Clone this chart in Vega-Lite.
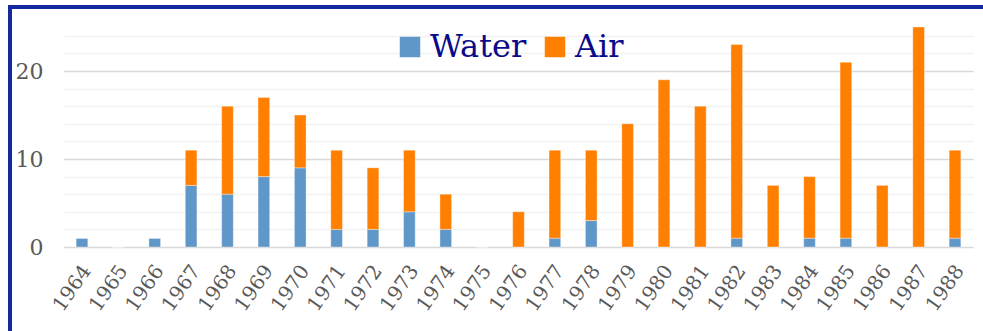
{
  "$schema": "https://vega.github.io/schema/vega-lite/v6.json",
  "autosize": {"type": "none"},
  "padding": {"left": 10, "top": 7, "right": -10, "bottom": -7},
  "width": 983,
  "height": 331,
  "background": "#ffffff",
  "view": {"stroke": "#1428a0", "strokeWidth": 4},
  "data": {"values": [
    {"year": "1964", "type": "Water", "value": 1}, {"year": "1964", "type": "Air", "value": 0},
    {"year": "1965", "type": "Water", "value": 0}, {"year": "1965", "type": "Air", "value": 0},
    {"year": "1966", "type": "Water", "value": 1}, {"year": "1966", "type": "Air", "value": 0},
    {"year": "1967", "type": "Water", "value": 7}, {"year": "1967", "type": "Air", "value": 4},
    {"year": "1968", "type": "Water", "value": 6}, {"year": "1968", "type": "Air", "value": 10},
    {"year": "1969", "type": "Water", "value": 8}, {"year": "1969", "type": "Air", "value": 9},
    {"year": "1970", "type": "Water", "value": 9}, {"year": "1970", "type": "Air", "value": 6},
    {"year": "1971", "type": "Water", "value": 2}, {"year": "1971", "type": "Air", "value": 9},
    {"year": "1972", "type": "Water", "value": 2}, {"year": "1972", "type": "Air", "value": 7},
    {"year": "1973", "type": "Water", "value": 4}, {"year": "1973", "type": "Air", "value": 7},
    {"year": "1974", "type": "Water", "value": 2}, {"year": "1974", "type": "Air", "value": 4},
    {"year": "1975", "type": "Water", "value": 0}, {"year": "1975", "type": "Air", "value": 0},
    {"year": "1976", "type": "Water", "value": 0}, {"year": "1976", "type": "Air", "value": 4},
    {"year": "1977", "type": "Water", "value": 1}, {"year": "1977", "type": "Air", "value": 10},
    {"year": "1978", "type": "Water", "value": 3}, {"year": "1978", "type": "Air", "value": 8},
    {"year": "1979", "type": "Water", "value": 0}, {"year": "1979", "type": "Air", "value": 14},
    {"year": "1980", "type": "Water", "value": 0}, {"year": "1980", "type": "Air", "value": 19},
    {"year": "1981", "type": "Water", "value": 0}, {"year": "1981", "type": "Air", "value": 16},
    {"year": "1982", "type": "Water", "value": 1}, {"year": "1982", "type": "Air", "value": 22},
    {"year": "1983", "type": "Water", "value": 0}, {"year": "1983", "type": "Air", "value": 7},
    {"year": "1984", "type": "Water", "value": 1}, {"year": "1984", "type": "Air", "value": 7},
    {"year": "1985", "type": "Water", "value": 1}, {"year": "1985", "type": "Air", "value": 20},
    {"year": "1986", "type": "Water", "value": 0}, {"year": "1986", "type": "Air", "value": 7},
    {"year": "1987", "type": "Water", "value": 0}, {"year": "1987", "type": "Air", "value": 25},
    {"year": "1988", "type": "Water", "value": 1}, {"year": "1988", "type": "Air", "value": 10}
  ]},
  "mark": {"type": "bar", "stroke": "#ffffff", "strokeOpacity": 0.35, "strokeWidth": 1},
  "encoding": {
    "x": {
      "field": "year", "type": "ordinal", "title": null,
      "scale": {"range": [53.8, 963.2], "paddingInner": 0.68, "paddingOuter": 0.34},
      "axis": {
        "offset": -91, "domain": false, "ticks": false, "grid": false,
        "labelAngle": -55, "labelAlign": "right", "labelBaseline": "middle",
        "labelPadding": 20, "labelOffset": 5, "labelOverlap": false, "labelBound": false,
        "labelFont": "DejaVu Serif", "labelFontSize": 20, "labelColor": "#595959"
      }
    },
    "y": {
      "field": "value", "type": "quantitative", "title": null, "stack": "zero",
      "scale": {"domain": [0, 24], "range": [240, 28.8], "nice": false, "zero": true},
      "axis": {
        "offset": -33, "domain": false, "ticks": false, "grid": true,
        "values": [0, 2, 4, 6, 8, 10, 12, 14, 16, 18, 20, 22, 24],
        "labelExpr": "datum.value % 10 === 0 ? datum.label : ''",
        "labelPadding": 0, "labelFont": "DejaVu Serif", "labelFontSize": 22, "labelColor": "#595959",
        "gridColor": {"condition": {"test": "datum.value % 10 === 0", "value": "#d9d9d9"}, "value": "#f2f2f2"},
        "gridWidth": 1.5
      }
    },
    "color": {
      "field": "type", "type": "nominal",
      "scale": {"domain": ["Water", "Air"], "range": ["#6097c9", "#ff7f00"]},
      "legend": {
        "orient": "none", "legendX": 384, "legendY": 24, "direction": "horizontal", "title": null,
        "symbolType": "square", "symbolSize": 420, "symbolStrokeWidth": 0, "symbolOpacity": 1,
        "labelFont": "DejaVu Serif", "labelFontSize": 32, "labelColor": "#0a0a8a",
        "labelOffset": 4, "columnPadding": 12, "labelLimit": 300
      }
    },
    "order": {"field": "type", "sort": "descending"}
  }
}
